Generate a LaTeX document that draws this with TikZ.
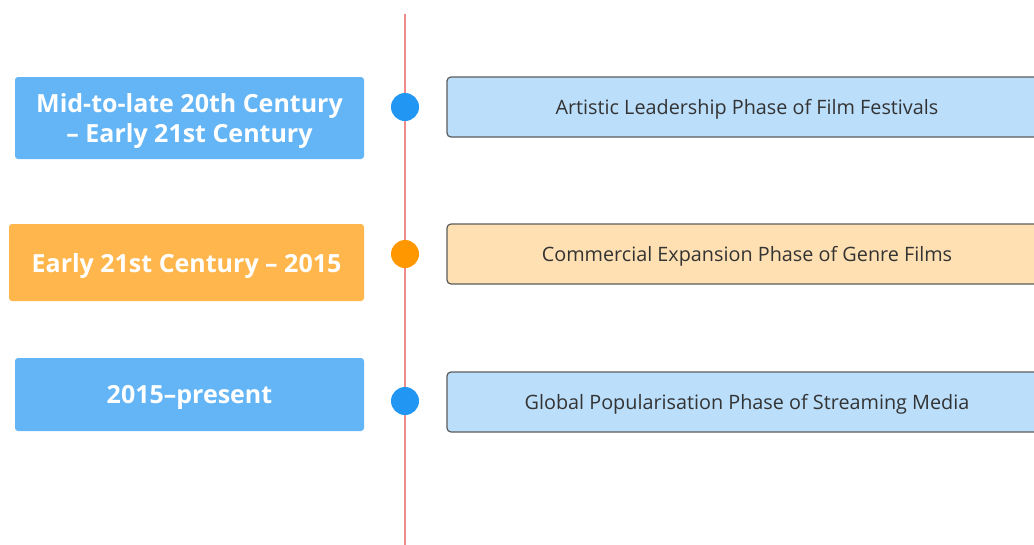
\documentclass[tikz,border=0pt]{standalone}
\usepackage{fontspec}
\setmainfont{Open Sans}
\usepackage{xcolor}
\definecolor{tblue}{HTML}{64B5F6}
\definecolor{torange}{HTML}{FFB74D}
\definecolor{dblue}{HTML}{2196F3}
\definecolor{dorange}{HTML}{FF9800}
\definecolor{lblue}{HTML}{BBDEFB}
\definecolor{lorange}{HTML}{FFE0B2}
\definecolor{tline}{HTML}{EF8A8A}
\definecolor{tdark}{HTML}{333333}

\begin{document}
\begin{tikzpicture}[x=1pt, y=-1pt,
		period/.style={rounded corners=3pt, text=white, font=\bfseries\fontsize{25}{30}\selectfont, align=center, inner sep=0pt, text depth=0pt},
		phase/.style={draw=tdark!80, line width=1.2pt, rounded corners=4pt, minimum width=600pt, minimum height=60pt, text=tdark, font=\fontsize{19.8}{24}\selectfont, inner sep=0pt, text depth=0pt},
		dot/.style={circle, inner sep=0pt, minimum size=28pt}]
		\useasboundingbox (0,0) rectangle (1034,544);
		\coordinate (top) at (405,14);
		\coordinate (bot) at (405,546);
		\draw[color=tline, line width=2.4pt] (top) -- (bot);
		\node[period, fill=tblue, minimum width=349pt, minimum height=82pt] (p1) at (189.5,118) {Mid-to-late 20th Century\\– Early 21st Century};
		\node[period, fill=torange, minimum width=355pt, minimum height=77pt] (p2) at (186.5,262.5) {Early 21st Century – 2015};
		\node[period, fill=tblue, minimum width=349pt, minimum height=73pt] (p3) at (189.5,394.5) {2015–present};
		\node[dot, fill=dblue] (d1) at (405,107) {};
		\node[dot, fill=dorange] (d2) at (405,254) {};
		\node[dot, fill=dblue] (d3) at (405,401) {};
		\node[phase, fill=lblue] (s1) at (747,107) {Artistic Leadership Phase of Film Festivals};
		\node[phase, fill=lorange] (s2) at (747,254) {Commercial Expansion Phase of Genre Films};
		\node[phase, fill=lblue] (s3) at (747,402) {Global Popularisation Phase of Streaming Media};
	\end{tikzpicture}
\end{document}
